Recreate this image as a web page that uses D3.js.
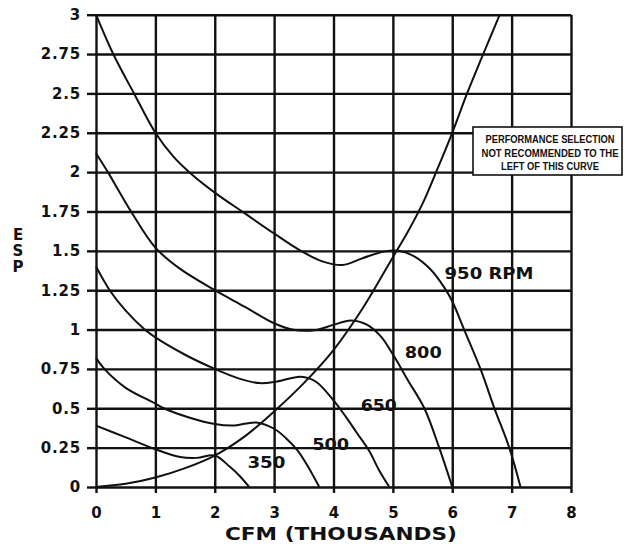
<!DOCTYPE html>
<html>
<head>
<meta charset="utf-8">
<script src="https://cdn.jsdelivr.net/npm/d3@7"></script>
<style>
  html, body { margin: 0; padding: 0; background: #fff; }
  svg { display: block; }
  text { font-family: "DejaVu Sans", "Liberation Sans", sans-serif; font-weight: bold; fill: #111; }
</style>
</head>
<body>
<svg id="chart" width="624" height="548"></svg>
<script>
// ---------- data ----------
const cfmTicks = [0, 1, 2, 3, 4, 5, 6, 7, 8];
const espTicks = [0, 0.25, 0.5, 0.75, 1, 1.25, 1.5, 1.75, 2, 2.25, 2.5, 2.75, 3];
const espTickLabels = ["0", "0.25", "0.5", "0.75", "1", "1.25", "1.5", "1.75", "2", "2.25", "2.5", "2.75", "3"];

const rpm950 = [[0,3.0],[0.29,2.75],[0.64,2.5],[1.0,2.25],[1.3,2.1],[1.6,1.99],[2.0,1.87],[2.5,1.74],[3.0,1.61],[3.45,1.50],[3.8,1.435],[4.15,1.41],[4.5,1.455],[4.85,1.495],[5.1,1.5],[5.36,1.465],[5.64,1.38],[5.87,1.265],[6.0,1.18],[6.2,1.0],[6.48,0.745],[6.71,0.5],[6.96,0.25],[7.15,0]];
const rpm800 = [[0,2.12],[0.2,2.0],[0.59,1.75],[1.0,1.52],[1.4,1.39],[2.0,1.25],[2.5,1.146],[3.0,1.04],[3.3,1.0],[3.67,0.995],[4.0,1.03],[4.29,1.058],[4.57,1.03],[4.8,0.955],[5.02,0.83],[5.25,0.68],[5.53,0.5],[5.78,0.25],[6.0,0]];
const rpm650 = [[0,1.4],[0.23,1.25],[0.5,1.12],[0.82,1.0],[1.0,0.95],[1.5,0.84],[2.0,0.75],[2.4,0.69],[2.75,0.66],[3.05,0.67],[3.45,0.70],[3.7,0.67],[4.0,0.55],[4.2,0.45],[4.4,0.34],[4.6,0.23],[4.77,0.105],[4.94,0]];
const rpm500 = [[0,0.82],[0.14,0.75],[0.5,0.63],[1.0,0.53],[1.14,0.5],[1.58,0.44],[2.0,0.40],[2.3,0.39],[2.7,0.41],[3.0,0.37],[3.2,0.31],[3.4,0.23],[3.57,0.13],[3.76,0]];
const rpm350 = [[0,0.39],[0.47,0.32],[1.0,0.24],[1.42,0.19],[1.7,0.185],[2.0,0.2],[2.25,0.13],[2.42,0.07],[2.58,0]];
const systemCurve = [[0,0],[0.5,0.02],[1,0.06],[1.5,0.12],[2,0.2],[2.5,0.32],[3,0.48],[3.5,0.66],[4,0.87],[4.5,1.14],[5,1.46],[5.25,1.62],[5.5,1.8],[5.75,2.02],[6,2.25],[6.25,2.5],[6.5,2.73],[6.8,3.0]];

const seriesLabels = ["950 RPM", "800", "650", "500", "350"];
const noteLines = ["PERFORMANCE SELECTION", "NOT RECOMMENDED TO THE", "LEFT OF THIS CURVE"];
const xTitle = "CFM (THOUSANDS)";
const yTitle = "ESP";

// ---------- layout ----------
const svg = d3.select("#chart");
const x = d3.scaleLinear().domain([0, 8]).range([96, 571]);
const y = d3.scaleLinear().domain([0, 3]).range([487, 14.7]);
const ink = "#111";

// grid (vertical)
const gx = svg.append("g").attr("transform", `translate(0,${y(0)})`)
  .call(d3.axisBottom(x).tickValues(cfmTicks).tickSize(-(y(0) - y(3))).tickFormat(""));
gx.select(".domain").remove();
gx.selectAll("line").attr("stroke", ink).attr("stroke-width", 2.4);

// grid (horizontal)
const gy = svg.append("g").attr("transform", `translate(${x(0)},0)`)
  .call(d3.axisLeft(y).tickValues(espTicks).tickSize(-(x(8) - x(0))).tickFormat(""));
gy.select(".domain").remove();
gy.selectAll("line").attr("stroke", ink).attr("stroke-width", 2.4);

// bottom axis ticks + labels
const ax = svg.append("g").attr("transform", `translate(0,${y(0)})`)
  .call(d3.axisBottom(x).tickValues(cfmTicks).tickSize(6).tickPadding(14).tickFormat(d3.format("d")));
ax.select(".domain").remove();
ax.selectAll("line").attr("stroke", ink).attr("stroke-width", 2.4);
ax.selectAll("text").style("font-size", "15px").attr("fill", ink);

// left axis ticks + labels
const ay = svg.append("g").attr("transform", `translate(${x(0)},0)`)
  .call(d3.axisLeft(y).tickValues(espTicks).tickSize(9).tickPadding(6)
    .tickFormat((d, i) => espTickLabels[i]));
ay.select(".domain").remove();
ay.selectAll("line").attr("stroke", ink).attr("stroke-width", 2.4);
ay.selectAll("text").style("font-size", "15px").style("letter-spacing", "0.8px").attr("fill", ink);

// curves
const line = d3.line().x(d => x(d[0])).y(d => y(d[1])).curve(d3.curveCatmullRom.alpha(0.5));
[rpm950, rpm800, rpm650, rpm500, rpm350, systemCurve].forEach(s => {
  svg.append("path").datum(s).attr("d", line)
    .attr("fill", "none").attr("stroke", ink).attr("stroke-width", 2).attr("stroke-linejoin", "round");
});

// curve labels (anchor positions in data units)
const labelPos = [[5.87, 1.32, 89], [5.2, 0.82, 37], [4.46, 0.48, 36], [3.64, 0.235, 37], [2.55, 0.12, 38]];
seriesLabels.forEach((t, i) => {
  const [lx, ly, w] = labelPos[i];
  svg.append("text").attr("x", x(lx)).attr("y", y(ly))
    .style("font-size", "16px").attr("textLength", w).attr("lengthAdjust", "spacingAndGlyphs")
    .text(t);
});

// note box
const box = svg.append("g");
box.append("rect").attr("x", 473).attr("y", 127).attr("width", 149).attr("height", 48)
  .attr("fill", "#fff").attr("stroke", ink).attr("stroke-width", 1.6);
const noteW = [129, 137, 98];
const noteY = [143, 156.5, 169.5];
noteLines.forEach((t, i) => {
  box.append("text").attr("x", 550).attr("y", noteY[i]).attr("text-anchor", "middle")
    .style("font-family", "'Liberation Sans Narrow','Liberation Sans',sans-serif")
    .style("font-size", "10px").attr("textLength", noteW[i]).attr("lengthAdjust", "spacingAndGlyphs")
    .text(t);
});

// axis titles
svg.append("text").attr("x", 341).attr("y", 540).attr("text-anchor", "middle")
  .style("font-size", "18px").attr("textLength", 232).attr("lengthAdjust", "spacingAndGlyphs")
  .text(xTitle);
svg.append("text").attr("x", 18).attr("y", 226)
  .style("font-size", "15px")
  .style("writing-mode", "vertical-rl")
  .style("text-orientation", "upright")
  .style("letter-spacing", "-2px")
  .text(yTitle);
</script>
</body>
</html>
